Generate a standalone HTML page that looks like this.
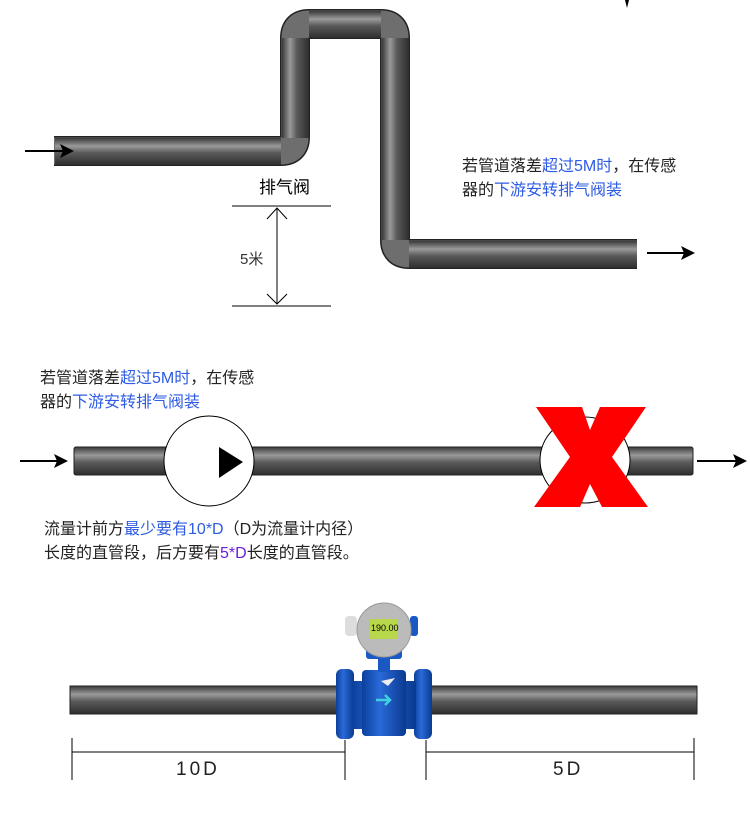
<!DOCTYPE html>
<html><head><meta charset="utf-8"><style>
body{margin:0;background:#fff;}
svg{display:block;}
text{font-family:"Liberation Sans","Noto Sans CJK SC",sans-serif;}
</style></head><body>
<svg width="750" height="813" viewBox="0 0 750 813" xmlns="http://www.w3.org/2000/svg">
<defs>
<linearGradient id="gh" x1="0" y1="0" x2="0" y2="1">
<stop offset="0" stop-color="#3a3a3a"/><stop offset="0.3" stop-color="#9a9a9a"/><stop offset="0.55" stop-color="#5a5a5a"/><stop offset="1" stop-color="#2e2e2e"/></linearGradient>
<linearGradient id="gv" x1="0" y1="0" x2="1" y2="0">
<stop offset="0" stop-color="#3a3a3a"/><stop offset="0.3" stop-color="#9a9a9a"/><stop offset="0.55" stop-color="#5a5a5a"/><stop offset="1" stop-color="#2e2e2e"/></linearGradient>
<linearGradient id="blue" x1="0" y1="0" x2="1" y2="0">
<stop offset="0" stop-color="#0b3f9c"/><stop offset="0.4" stop-color="#2a6ad8"/><stop offset="1" stop-color="#0a3a90"/></linearGradient>
</defs>
<!-- top pipe -->
<path d="M54 151 H281 Q295 151 295 137 V38 Q295 24 309 24 H381 Q395 24 395 38 V240 Q395 254 409 254 H637" fill="none" stroke="#222" stroke-width="30"/>
<path d="M54 151 H281 Q295 151 295 137 V38 Q295 24 309 24 H381 Q395 24 395 38 V240 Q395 254 409 254 H637" fill="none" stroke="#6e6e6e" stroke-width="27"/>
<rect x="55" y="138" width="226" height="27" fill="url(#gh)"/>
<rect x="282" y="38" width="27" height="100" fill="url(#gv)"/>
<rect x="309" y="11" width="72" height="27" fill="url(#gh)"/>
<rect x="382" y="38" width="27" height="202" fill="url(#gv)"/>
<rect x="409" y="241" width="228" height="27" fill="url(#gh)"/>
<line x1="25" y1="151" x2="66" y2="151" stroke="#000" stroke-width="2"/><path d="M74 151 L60 144 L63 151 L60 158Z"/>
<line x1="647" y1="253" x2="688" y2="253" stroke="#000" stroke-width="2"/><path d="M695 253 L681 246 L684 253 L681 260Z"/>
<path d="M625 0 L629 0 L627 8Z"/>
<text x="259" y="193" font-size="17">排气阀</text>
<line x1="232" y1="206" x2="331" y2="206" stroke="#000"/><line x1="232" y1="306" x2="331" y2="306" stroke="#000"/>
<line x1="277" y1="208" x2="277" y2="304" stroke="#000"/>
<path d="M267 219 L277 208 L287 219 M267 294 L277 304 L287 294" fill="none" stroke="#000"/>
<text x="240" y="264" font-size="15" fill="#333">5米</text>
<text x="462" y="171" font-size="16" fill="#222">若管道落差<tspan fill="#2d5be3">超过5M时</tspan>，在传感</text>
<text x="462" y="195" font-size="16" fill="#222">器的<tspan fill="#2d5be3">下游安转排气阀装</tspan></text>
<!-- middle -->
<text x="40" y="383" font-size="16" fill="#222">若管道落差<tspan fill="#2d5be3">超过5M时</tspan>，在传感</text>
<text x="40" y="407" font-size="16" fill="#222">器的<tspan fill="#2d5be3">下游安转排气阀装</tspan></text>
<rect x="74" y="447" width="619" height="28" rx="2" fill="url(#gh)" stroke="#222"/>
<ellipse cx="209" cy="461" rx="45" ry="45" fill="#fff" stroke="#000"/>
<path d="M219 447 L243 462 L219 478Z"/>
<ellipse cx="585" cy="460" rx="45" ry="43" fill="#fff" stroke="#000"/>
<path d="M536 407 H582 L590 430 L600 407 H646 L612 457 L648 507 H602 L590 484 L580 507 H534 L570 457Z" fill="#f00"/>
<line x1="20" y1="461" x2="61" y2="461" stroke="#000" stroke-width="2"/><path d="M68 461 L54 454 L57 461 L54 468Z"/>
<line x1="697" y1="461" x2="740" y2="461" stroke="#000" stroke-width="2"/><path d="M747 461 L733 454 L736 461 L733 468Z"/>
<text x="44" y="534" font-size="16" fill="#222">流量计前方<tspan fill="#2d5be3">最少要有10*D</tspan>（D为流量计内径）</text>
<text x="44" y="558" font-size="16" fill="#222">长度的直管段，后方要有<tspan fill="#6a1de0">5*D</tspan>长度的直管段。</text>
<!-- bottom -->
<rect x="70" y="686" width="627" height="28" fill="url(#gh)" stroke="#222"/>
<rect x="336" y="669" width="18" height="70" rx="6" fill="url(#blue)"/>
<rect x="414" y="669" width="18" height="70" rx="6" fill="url(#blue)"/>
<rect x="352" y="681" width="64" height="48" fill="url(#blue)"/>
<rect x="362" y="670" width="44" height="66" rx="4" fill="url(#blue)"/>
<rect x="378" y="652" width="12" height="20" fill="#1a58c4"/>
<rect x="366" y="645" width="36" height="14" rx="3" fill="#1a58c4"/>
<rect x="345" y="616" width="12" height="20" rx="4" fill="#ddd"/>
<rect x="410" y="616" width="8" height="20" rx="3" fill="#1a58c4"/>
<circle cx="384" cy="630" r="27" fill="#bbb" stroke="#999"/>
<rect x="370" y="619" width="27" height="20" fill="#b7d84a"/>
<text x="371" y="631" font-size="9" fill="#000">190.00</text>
<path d="M376 700 H390 M385 695 L390 700 L385 705" fill="none" stroke="#3fd0e0" stroke-width="2.5"/>
<path d="M381 681 L395 678 L388 686Z" fill="#eee"/>
<g stroke="#000"><line x1="72" y1="738" x2="72" y2="780"/><line x1="345" y1="740" x2="345" y2="780"/><line x1="426" y1="740" x2="426" y2="780"/><line x1="694" y1="738" x2="694" y2="780"/>
<line x1="72" y1="752" x2="345" y2="752"/><line x1="426" y1="752" x2="694" y2="752"/></g>
<text x="176" y="775" font-size="19" letter-spacing="3" fill="#222">10D</text>
<text x="553" y="775" font-size="19" letter-spacing="3" fill="#222">5D</text>
</svg>
</body></html>
